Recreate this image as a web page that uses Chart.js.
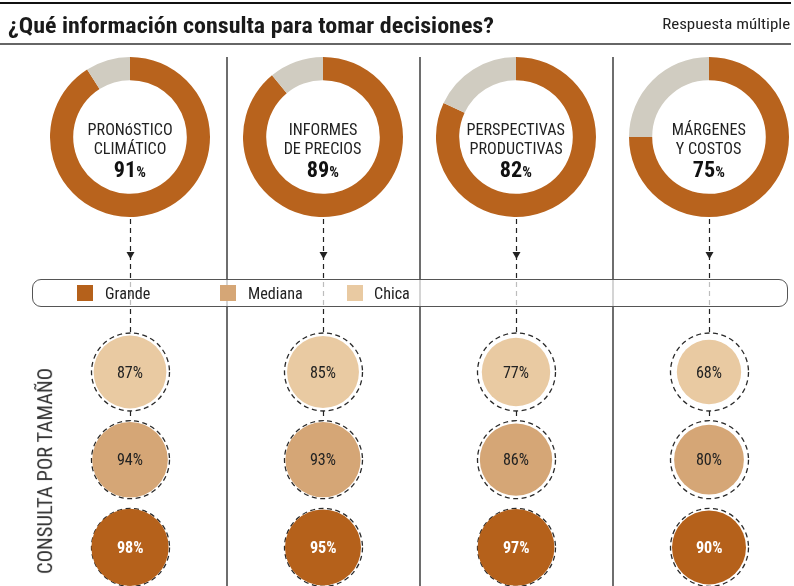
<!DOCTYPE html>
<html>
<head>
<meta charset="utf-8">
<script src="https://cdn.jsdelivr.net/npm/chart.js@4.4.1/dist/chart.umd.min.js"></script>
<style>
    html, body { margin: 0; padding: 0; background: #fff; }
    #wrap {
        position: relative; width: 794px; height: 586px; overflow: hidden;
        font-family: "Roboto Condensed", "Liberation Sans Narrow", "DejaVu Sans Condensed", Roboto, sans-serif;
        color: #222;
    }
    #wrap canvas { position: absolute; }
    .t { position: absolute; white-space: nowrap; line-height: 1; }
    .rule { position: absolute; left: 0; width: 791px; }
    #leyenda {
        position: absolute; left: 32px; top: 279px; width: 756px; height: 28px;
        box-sizing: border-box; border: 1.5px solid #555; border-radius: 9px;
        background: rgba(255, 255, 255, 0.7); z-index: 3;
    }
    .sq { position: absolute; width: 16px; height: 16px; top: 285px; z-index: 4; }
</style>
</head>
<body>
<div id="wrap">
    <div class="rule" style="top:2px;height:2px;background:#111"></div>
    <div class="rule" style="top:43px;height:2px;background:#666"></div>
    <canvas id="burbujas" width="794" height="586" style="left:0;top:0;z-index:1"></canvas>
    <div id="leyenda"></div>
</div>
<script>
// Datos
const temas = [['PRONóSTICO', 'CLIMÁTICO'], ['INFORMES', 'DE PRECIOS'], ['PERSPECTIVAS', 'PRODUCTIVAS'], ['MÁRGENES', 'Y COSTOS']];
const totales = [91, 89, 82, 75];
const tamanos = ['Chica', 'Mediana', 'Grande'];
const chica = [87, 85, 77, 68];
const mediana = [94, 93, 86, 80];
const grande = [98, 95, 97, 90];
const leyenda = ['Grande', 'Mediana', 'Chica'];

// Estilos
const colores = { Grande: '#b5611b', Mediana: '#d5a676', Chica: '#e9caa2' };
const naranja = '#b8631d';
const gris = '#d0ccc1';
const DONUT_Y = 137, DONUT_R = 80;
const ANILLO = 39;

const wrap = document.getElementById('wrap');
const porTamano = { Chica: chica, Mediana: mediana, Grande: grande };

// factor de condensado segun la fuente disponible
const probe = document.createElement('span');
probe.className = 't';
probe.style.fontSize = '16px';
probe.textContent = 'PRONóSTICO';
wrap.appendChild(probe);
const k = 85 / probe.getBoundingClientRect().width;
wrap.removeChild(probe);

function addText(txt, x, base, size, opts = {}) {
    const el = document.createElement('div');
    el.className = 't';
    el.innerHTML = txt;
    el.style.fontSize = size + 'px';
    el.style.fontWeight = opts.weight || 400;
    el.style.color = opts.color || '#222';
    el.style.zIndex = 5;
    wrap.appendChild(el);
    const w = el.getBoundingClientRect().width;
    const s = opts.width ? opts.width / w : k;
    const align = opts.align || 'center';
    el.style.top = (base - 0.84 * size) + 'px';
    if (align === 'left') {
        el.style.left = x + 'px';
        el.style.transformOrigin = 'left center';
    } else if (align === 'right') {
        el.style.left = (x - w) + 'px';
        el.style.transformOrigin = 'right center';
    } else {
        el.style.left = (x - w / 2) + 'px';
    }
    el.style.transform = `scaleX(${s})`;
    return el;
}

function line(ctx, x1, y1, x2, y2) {
    ctx.beginPath();
    ctx.moveTo(x1, y1);
    ctx.lineTo(x2, y2);
    ctx.stroke();
}

const guias = {
    id: 'guias',
    beforeDatasetsDraw(chart) {
        const { ctx, scales: { x, y } } = chart;
        ctx.save();
        // separadores
        ctx.strokeStyle = '#4a4a4a';
        ctx.lineWidth = 1.6;
        for (let i = 0; i < temas.length - 1; i++) {
            const sx = Math.round((x.getPixelForValue(i) + x.getPixelForValue(i + 1)) / 2);
            line(ctx, sx, 57, sx, 586);
        }
        const y0 = y.getPixelForValue(0), y1 = y.getPixelForValue(1);
        temas.forEach((t, i) => {
            const cx = Math.round(x.getPixelForValue(i)) + 0.5;
            ctx.strokeStyle = '#222';
            ctx.lineWidth = 1.2;
            ctx.setLineDash([5, 4]);
            line(ctx, cx, DONUT_Y + DONUT_R + 2, cx, y0 - ANILLO);
            line(ctx, cx, y0 + ANILLO, cx, y1 - ANILLO);
            // flecha
            ctx.setLineDash([]);
            ctx.fillStyle = '#222';
            ctx.beginPath();
            ctx.moveTo(cx - 4, 252);
            ctx.lineTo(cx + 4, 252);
            ctx.lineTo(cx, 259);
            ctx.closePath();
            ctx.fill();
            // anillos de referencia
            ctx.setLineDash([5, 3.5]);
            ctx.strokeStyle = '#2a2a2a';
            ctx.lineWidth = 1.3;
            tamanos.forEach((tm, r) => {
                ctx.beginPath();
                ctx.arc(cx, y.getPixelForValue(r), ANILLO, 0, Math.PI * 2);
                ctx.stroke();
            });
        });
        ctx.restore();
    }
};

const burbujas = new Chart(document.getElementById('burbujas'), {
    type: 'bubble',
    data: {
        datasets: tamanos.map(tm => ({
            label: tm,
            data: porTamano[tm].map((v, i) => ({ x: i, y: tm, r: ANILLO * Math.sqrt(v / 100) })),
            backgroundColor: colores[tm],
            borderWidth: 0,
            clip: false
        }))
    },
    options: {
        responsive: false,
        animation: false,
        devicePixelRatio: 1,
        events: [],
        layout: { padding: { left: 130, right: 85, top: 372, bottom: 36 } },
        scales: {
            x: { type: 'linear', min: 0, max: temas.length - 1, display: false },
            y: { type: 'category', labels: tamanos, offset: false, display: false }
        },
        plugins: { legend: { display: false }, tooltip: { enabled: false } }
    },
    plugins: [guias]
});

const xs = burbujas.scales.x, ys = burbujas.scales.y;

// donas
temas.forEach((t, i) => {
    const cx = xs.getPixelForValue(i);
    const cv = document.createElement('canvas');
    cv.width = DONUT_R * 2;
    cv.height = DONUT_R * 2;
    cv.style.left = (cx - DONUT_R) + 'px';
    cv.style.top = (DONUT_Y - DONUT_R) + 'px';
    cv.style.zIndex = 2;
    wrap.appendChild(cv);
    new Chart(cv, {
        type: 'doughnut',
        data: {
            labels: ['Consulta', 'No consulta'],
            datasets: [{
                data: [totales[i], 100 - totales[i]],
                backgroundColor: [naranja, gris],
                borderWidth: 0
            }]
        },
        options: {
            responsive: false,
            animation: false,
            devicePixelRatio: 1,
            events: [],
            cutout: '71%',
            plugins: { legend: { display: false }, tooltip: { enabled: false } }
        }
    });
    addText(t[0], cx, 135, 16);
    addText(t[1], cx, 154, 16);
    addText(`${totales[i]}<span style="font-size:15px">%</span>`, cx, 177, 22, { weight: 700, color: '#111' });

    // etiquetas de burbujas
    tamanos.forEach((tm, r) => {
        const big = tm === 'Grande';
        addText(porTamano[tm][i] + '%', cx, ys.getPixelForValue(r) + 6, 16,
            { weight: big ? 700 : 400, color: big ? '#fff' : '#222' });
    });
});

// leyenda
const sqX = [77, 220, 347], txX = [105, 248, 374];
leyenda.forEach((tm, i) => {
    const sq = document.createElement('div');
    sq.className = 'sq';
    sq.style.left = sqX[i] + 'px';
    sq.style.background = colores[tm];
    wrap.appendChild(sq);
    addText(tm, txX[i], 299, 16, { align: 'left' });
});

// titulos
addText('¿Qué información consulta para tomar decisiones?', 8, 33, 22, { weight: 700, align: 'left', width: 486, color: '#1a1a1a' });
addText('Respuesta múltiple', 790, 30, 15, { align: 'right', width: 128 });
const vert = addText('CONSULTA POR TAMAÑO', 45, 478, 20, { color: '#333' });
vert.style.transform = `rotate(-90deg) scaleX(${208 / vert.getBoundingClientRect().width})`;
</script>
</body>
</html>
